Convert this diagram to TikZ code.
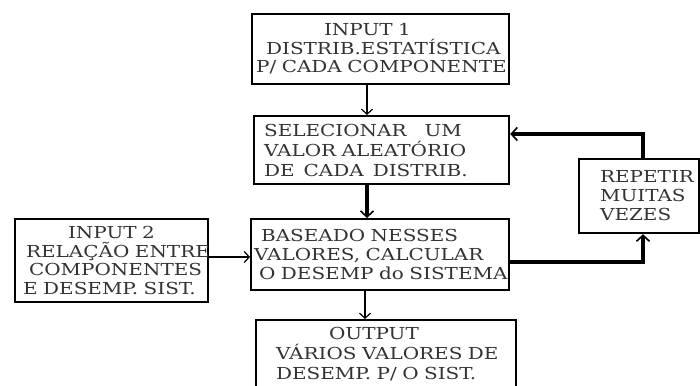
\documentclass[tikz,border=0pt]{standalone}
\usepackage{fontspec}
\setmainfont{DejaVu Serif}[FakeStretch=1.21]
\usetikzlibrary{arrows.meta}
\tikzset{
  box/.style={draw=black, line width=2.2pt, anchor=north west, inner ysep=0pt,
    align=left, font=\fontsize{16.5}{19}\selectfont, text=black!80},
  thinarrow/.style={line width=1.8pt, -{Straight Barb[length=5pt,width=11pt,line width=1.2pt]}},
  thickarrow/.style={line width=4pt, -{Straight Barb[length=6pt,width=13pt,line width=1.6pt]}}
}
\begin{document}
\begin{tikzpicture}[x=1pt,y=-1pt]
\useasboundingbox (0,0) rectangle (700,385);
\clip (0,0) rectangle (700,385);
\fill[white] (0,0) rectangle (700,385);
% boxes
\node[box, inner xsep=4pt, text width=249pt, minimum height=70pt,
  font=\fontsize{16.5}{18.5}\selectfont] (b1) at (251,13)
  {\mbox{\hspace*{68pt}INPUT 1}\\\mbox{\hspace*{10pt}DISTRIB.ESTATÍSTICA}\\\mbox{P/ CADA COMPONENTE}};
\node[box, inner xsep=10pt, text width=235pt, minimum height=68pt,
  font=\fontsize{16.5}{20}\selectfont] (b2) at (253,115)
  {\mbox{SELECIONAR\hspace{18pt}UM}\\\mbox{VALOR ALEATÓRIO}\\\mbox{DE\hspace{9pt}CADA\hspace{9pt}DISTRIB.}};
\node[box, inner xsep=3pt, text width=252pt, minimum height=71pt] (b3) at (250,218)
  {\mbox{\hspace*{7pt}BASEADO NESSES}\\\mbox{VALORES, CALCULAR}\\\mbox{\hspace*{5pt}O DESEMP do SISTEMA}};
\node[box, inner xsep=4pt, text width=185pt, minimum height=83pt,
  font=\fontsize{16.5}{18.5}\selectfont] (in2) at (14,218)
  {\mbox{\hspace*{49pt}INPUT 2}\\\mbox{\hspace*{7pt}RELAÇÃO ENTRE}\\\mbox{\hspace*{10pt}COMPONENTES}\\\mbox{\hspace*{4pt}E DESEMP. SIST.}};
\node[box, inner xsep=21pt, text width=78pt, minimum height=74pt] (rep) at (578,158)
  {\mbox{REPETIR}\\\mbox{MUITAS}\\\mbox{VEZES}};
\node[box, inner xsep=20pt, text width=220pt, minimum height=68pt,
  font=\fontsize{16.5}{20}\selectfont] (out) at (255,319)
  {\mbox{\hspace*{53pt}OUTPUT}\\\mbox{VÁRIOS VALORES DE}\\\mbox{DESEMP. P/ O SIST.}};
% helper coordinates for connector columns/rows
\coordinate (cx) at (367,0);
\coordinate (cy) at (0,257);
\coordinate (ry) at (0,262);
\coordinate (rx) at (643,0);
\coordinate (ty) at (0,134);
% connectors
\draw[thinarrow] (b1.south -| cx) -- (b2.north -| cx);
\draw[thickarrow] (b2.south -| cx) -- (b3.north -| cx);
\draw[thinarrow] ([xshift=-2pt]b3.south -| cx) -- ([xshift=-2pt]out.north -| cx);
\draw[thinarrow] (in2.east |- cy) -- (b3.west |- cy);
\draw[thickarrow] (b3.east |- ry) -| (rep.south -| rx);
\draw[thickarrow] (rep.north -| rx) |- (b2.east |- ty);
\end{tikzpicture}
\end{document}
